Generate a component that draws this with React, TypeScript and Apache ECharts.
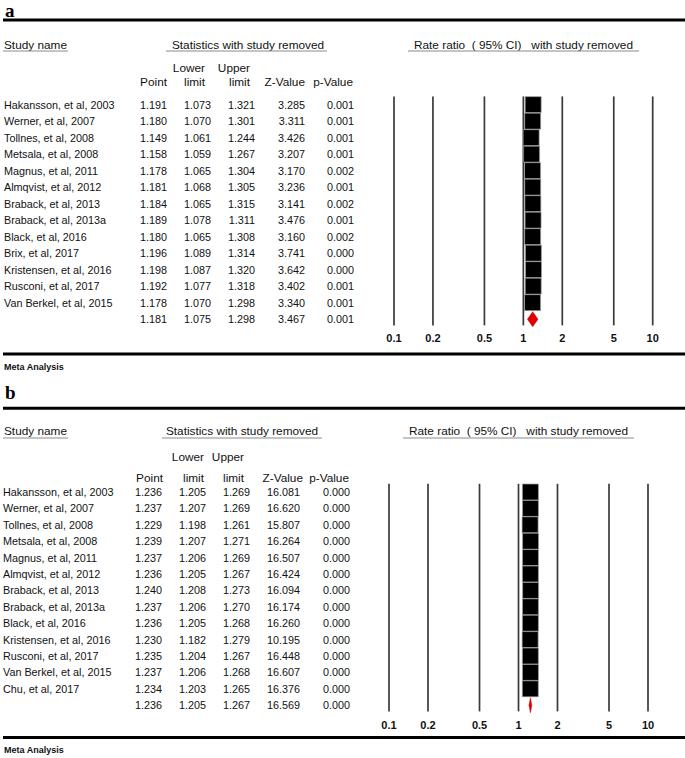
import React, { useEffect, useRef } from "react";
import * as echarts from "echarts";

// ---------- data ----------
const TICKS = [0.1, 0.2, 0.5, 1, 2, 5, 10];
const TICK_LABELS = ["0.1", "0.2", "0.5", "1", "2", "5", "10"];

const studiesA = [
  "Hakansson, et al, 2003", "Werner, et al, 2007", "Tollnes, et al, 2008", "Metsala, et al, 2008",
  "Magnus, et al, 2011", "Almqvist, et al, 2012", "Braback, et al, 2013", "Braback, et al, 2013a",
  "Black, et al, 2016", "Brix, et al, 2017", "Kristensen, et al, 2016", "Rusconi, et al, 2017",
  "Van Berkel, et al, 2015",
];
const pointA = [1.191, 1.18, 1.149, 1.158, 1.178, 1.181, 1.184, 1.189, 1.18, 1.196, 1.198, 1.192, 1.178];
const lowerA = [1.073, 1.07, 1.061, 1.059, 1.065, 1.068, 1.065, 1.078, 1.065, 1.089, 1.087, 1.077, 1.07];
const upperA = [1.321, 1.301, 1.244, 1.267, 1.304, 1.305, 1.315, 1.311, 1.308, 1.314, 1.32, 1.318, 1.298];
const zA = [3.285, 3.311, 3.426, 3.207, 3.17, 3.236, 3.141, 3.476, 3.16, 3.741, 3.642, 3.402, 3.34];
const pA = [0.001, 0.001, 0.001, 0.001, 0.002, 0.001, 0.002, 0.001, 0.002, 0.0, 0.0, 0.001, 0.001];
const summaryA = [1.181, 1.075, 1.298, 3.467, 0.001]; // point, lower, upper, z, p

const studiesB = [
  "Hakansson, et al, 2003", "Werner, et al, 2007", "Tollnes, et al, 2008", "Metsala, et al, 2008",
  "Magnus, et al, 2011", "Almqvist, et al, 2012", "Braback, et al, 2013", "Braback, et al, 2013a",
  "Black, et al, 2016", "Kristensen, et al, 2016", "Rusconi, et al, 2017", "Van Berkel, et al, 2015",
  "Chu, et al, 2017",
];
const pointB = [1.236, 1.237, 1.229, 1.239, 1.237, 1.236, 1.24, 1.237, 1.236, 1.23, 1.235, 1.237, 1.234];
const lowerB = [1.205, 1.207, 1.198, 1.207, 1.206, 1.205, 1.208, 1.206, 1.205, 1.182, 1.204, 1.206, 1.203];
const upperB = [1.269, 1.269, 1.261, 1.271, 1.269, 1.267, 1.273, 1.27, 1.268, 1.279, 1.267, 1.268, 1.265];
const zB = [16.081, 16.62, 15.807, 16.264, 16.507, 16.424, 16.094, 16.174, 16.26, 10.195, 16.448, 16.607, 16.376];
const pB = [0.0, 0.0, 0.0, 0.0, 0.0, 0.0, 0.0, 0.0, 0.0, 0.0, 0.0, 0.0, 0.0];
const summaryB = [1.236, 1.205, 1.267, 16.569, 0.0];

const HEADER_TOP = ["", "Lower", "Upper", "", ""];
const HEADER_BOT = ["Point", "limit", "limit", "Z-Value", "p-Value"];

// ---------- layout ----------
const FONT = '"Liberation Sans", Arial, sans-serif';
const TXT = `10.8px ${FONT}`;
const HDR = `11.8px ${FONT}`;

const layoutA = {
  letter: "a", letterY: 10, topLine: 20, hdrY: 45, ulY: 51, h1Y: 68, h2Y: 81.7,
  gridLeft: 394, gridWidth: 258.7, gridTop: 96.4, gridHeight: 231,
  tickY: 338, botLine: 354, metaY: 367,
  nameX: 4, colRight: [167, 211, 255, 305, 354], hdrRight: [167, 205, 250, 305, 353],
  studyUl: [3, 68], statUl: [166, 327], statX: 248, rateUl: [408, 639], rateX: 523.5,
};
const layoutB = {
  letter: "b", letterY: 392, topLine: 408.3, hdrY: 431, ulY: 438, h1Y: 456.7, h2Y: 478.3,
  gridLeft: 389, gridWidth: 259, gridTop: 483.8, gridHeight: 229.6,
  tickY: 725, botLine: 737.5, metaY: 749.5,
  nameX: 3, colRight: [162, 206, 250, 300, 350], hdrRight: [163, 204, 244, 303, 349],
  studyUl: [3, 68], statUl: [162, 322], statX: 242, rateUl: [403, 634], rateX: 518.5,
};

function panelGraphics(L: any) {
  const els: any[] = [];
  els.push({ type: "text", x: 5, y: L.letterY, style: { text: L.letter, font: `bold 19px "Liberation Serif", serif`, fill: "#000", textAlign: "left", textVerticalAlign: "middle", align: "left", verticalAlign: "middle" } });
  els.push({ type: "line", shape: { x1: 3, y1: L.topLine, x2: 685, y2: L.topLine }, style: { stroke: "#000", lineWidth: 3 } });
  els.push({ type: "line", shape: { x1: 3, y1: L.botLine, x2: 685, y2: L.botLine }, style: { stroke: "#000", lineWidth: 3 } });
  const t = (text: string, x: number, y: number, align: string, font = HDR) => ({
    type: "text", x, y,
    style: { text, font, fill: "#111", textAlign: align, textVerticalAlign: "middle", align, verticalAlign: "middle" },
  });
  els.push(t("Study name", 4, L.hdrY, "left"));
  els.push(t("Statistics with study removed", L.statX, L.hdrY, "center"));
  els.push(t("Rate ratio  ( 95% CI)   with study removed", L.rateX, L.hdrY, "center"));
  [L.studyUl, L.statUl, L.rateUl].forEach((u: number[]) =>
    els.push({ type: "line", shape: { x1: u[0], y1: L.ulY, x2: u[1], y2: L.ulY }, style: { stroke: "#8a8a8a", lineWidth: 1 } })
  );
  HEADER_TOP.forEach((h, i) => { if (h) els.push(t(h, L.hdrRight[i], L.h1Y, "right")); });
  HEADER_BOT.forEach((h, i) => els.push(t(h, L.hdrRight[i], L.h2Y, "right")));
  els.push(t("Meta Analysis", 4, L.metaY, "left", `bold 9px ${FONT}`));
  return els;
}

function panelSeries(idx: number, L: any, names: string[], point: number[], lower: number[], upper: number[], z: number[], p: number[], summary: number[]) {
  const nRows = names.length + 1;
  const rowNames = [...names, ""];
  const rowVals = [
    [...point, summary[0]],
    [...lower, summary[1]],
    [...upper, summary[2]],
    [...z, summary[3]],
    [...p, summary[4]],
  ];
  const base = { xAxisIndex: idx, yAxisIndex: idx, silent: true };
  return [
    {
      ...base, type: "custom", name: "ticks" + idx,
      data: TICKS.map((v, i) => [v, i]),
      renderItem: (params: any, api: any) => {
        const v = api.value(0);
        const top = api.coord([v, -0.5]);
        const bot = api.coord([v, nRows - 0.5]);
        return {
          type: "group",
          children: [
            { type: "line", shape: { x1: top[0], y1: top[1], x2: bot[0], y2: bot[1] - 2 }, style: { stroke: "#3a3a3a", lineWidth: 1.7 } },
            { type: "text", x: top[0], y: L.tickY, style: { text: TICK_LABELS[params.dataIndex], font: `bold 11px ${FONT}`, fill: "#111", textAlign: "center", textVerticalAlign: "middle", align: "center", verticalAlign: "middle" } },
          ],
        };
      },
    },
    {
      ...base, type: "custom", name: "ci" + idx,
      data: point.map((_, i) => [lower[i], upper[i], i]),
      renderItem: (params: any, api: any) => {
        const a = api.coord([api.value(0), api.value(2)]);
        const b = api.coord([api.value(1), api.value(2)]);
        return { type: "line", shape: { x1: a[0], y1: a[1], x2: b[0], y2: b[1] }, style: { stroke: "#000", lineWidth: 1 } };
      },
    },
    {
      ...base, type: "scatter", name: "point" + idx,
      symbol: "rect", symbolSize: 16,
      data: point.map((v, i) => [v, i]),
      itemStyle: { color: "#000", opacity: 1, borderColor: "#a0a0a0", borderWidth: 0.7 },
    },
    {
      ...base, type: "custom", name: "summary" + idx,
      data: [[summary[1], summary[0], summary[2], nRows - 1]],
      renderItem: (params: any, api: any) => {
        const row = api.value(3);
        const l = api.coord([api.value(0), row]);
        const c = api.coord([api.value(1), row]);
        const u = api.coord([api.value(2), row]);
        const h = 7.5;
        return {
          type: "polygon",
          shape: { points: [[l[0], l[1]], [c[0], c[1] - h], [u[0], u[1]], [c[0], c[1] + h]] },
          style: { fill: "#dd0000", stroke: "#dd0000", lineWidth: 0.5 },
        };
      },
    },
    {
      ...base, type: "custom", name: "table" + idx, clip: false,
      data: rowNames.map((_, i) => [1, i]),
      renderItem: (params: any, api: any) => {
        const i = params.dataIndex;
        const y = api.coord([1, api.value(1)])[1];
        const children: any[] = [];
        const mk = (text: string, x: number, align: string) => ({
          type: "text", x, y,
          style: { text, font: TXT, fill: "#111", textAlign: align, textVerticalAlign: "middle", align, verticalAlign: "middle" },
        });
        if (rowNames[i]) children.push(mk(rowNames[i], L.nameX, "left"));
        rowVals.forEach((col, c) => children.push(mk(col[i].toFixed(3), L.colRight[c], "right")));
        return { type: "group", children };
      },
    },
  ];
}

export default function App() {
  const ref = useRef<HTMLDivElement>(null);
  useEffect(() => {
    if (!ref.current) return;
    const chart = echarts.init(ref.current, null, { renderer: "svg" });
    const layouts = [layoutA, layoutB];
    const option: any = {
      animation: false,
      backgroundColor: "#fff",
      grid: layouts.map((L) => ({ left: L.gridLeft, top: L.gridTop, width: L.gridWidth, height: L.gridHeight, containLabel: false })),
      xAxis: layouts.map((_, i) => ({ type: "log", logBase: 10, min: 0.1, max: 10, gridIndex: i, show: false })),
      yAxis: layouts.map((_, i) => ({ type: "value", inverse: true, min: -0.5, max: 13.5, gridIndex: i, show: false })),
      graphic: [...panelGraphics(layoutA), ...panelGraphics(layoutB)],
      series: [
        ...panelSeries(0, layoutA, studiesA, pointA, lowerA, upperA, zA, pA, summaryA),
        ...panelSeries(1, layoutB, studiesB, pointB, lowerB, upperB, zB, pB, summaryB),
      ],
    };
    chart.setOption(option);
    return () => chart.dispose();
  }, []);
  return <div ref={ref} style={{ position: "absolute", left: 0, top: 0, width: 685, height: 758 }} />;
}
